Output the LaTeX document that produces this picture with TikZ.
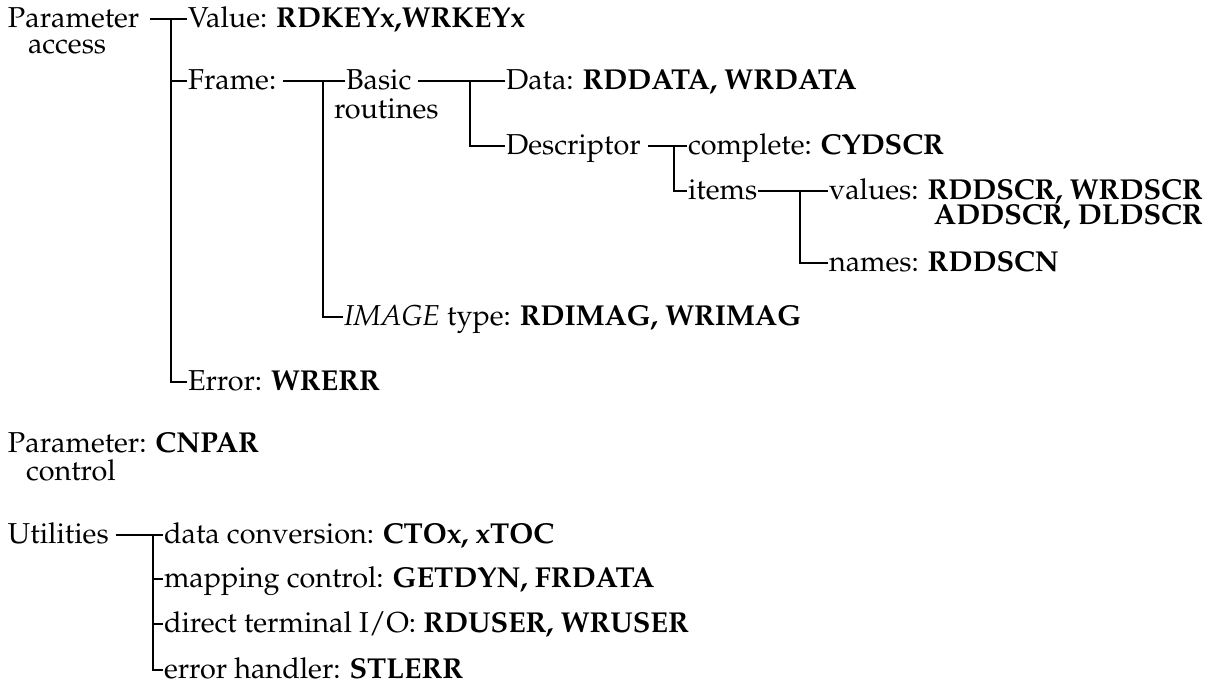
\documentclass[tikz,border=0pt]{standalone}
\usepackage[T1]{fontenc}
\usepackage{mathpazo}
\usepackage{tikz}

\begin{document}
\begin{tikzpicture}[x=0.5pt,y=-0.5pt,line width=1pt,
	lbl/.style={anchor=base west,inner sep=0pt,text height=10pt,text depth=1.5pt,
		font=\fontsize{14.4}{14}\selectfont}]
	\useasboundingbox (0,0) rectangle (1225,686);
	% 树干位置
	\coordinate (tacc) at (171,0);
	\coordinate (tfrm) at (323,0);
	\coordinate (tbas) at (470,0);
	\coordinate (tdsc) at (674,0);
	\coordinate (titm) at (800,0);
	\coordinate (tutl) at (153,0);
	% 参数访问
	\node[lbl] (par) at (7,27) {Parameter};
	\node[lbl] (acc) at (27,53) {access};
	\node[lbl] (val) at (187,27) {Value: \textbf{RDKEYx,WRKEYx}};
	\node[lbl] (frame) at (187,89) {Frame:};
	\node[lbl] (err) at (187,390) {Error: \textbf{WRERR}};
	% 帧
	\node[lbl] (basic) at (345,89) {Basic};
	\node[lbl] (rout) at (333,118) {routines};
	\node[lbl] (img) at (343,325) {\textit{IMAGE} type: \textbf{RDIMAG, WRIMAG}};
	\node[lbl] (data) at (505,89) {Data: \textbf{RDDATA, WRDATA}};
	\node[lbl] (desc) at (505,154) {Descriptor};
	\node[lbl] (compl) at (687,154) {complete: \textbf{CYDSCR}};
	\node[lbl] (items) at (687,199) {items};
	\node[lbl] (vals) at (828,199) {values: \textbf{RDDSCR, WRDSCR}};
	\node[lbl,anchor=base east] (vals2) at (vals.east |- 0,224) {\textbf{ADDSCR, DLDSCR}};
	\node[lbl] (names) at (828,271) {names: \textbf{RDDSCN}};
	% 参数控制
	\node[lbl] (cnpar) at (7,452) {Parameter: \textbf{CNPAR}};
	\node[lbl] (ctrl) at (25,480) {control};
	% 实用程序
	\node[lbl] (util) at (7,543) {Utilities};
	\node[lbl] (dconv) at (163,543) {data conversion: \textbf{CTOx, xTOC}};
	\node[lbl] (mapc) at (163,587) {mapping control: \textbf{GETDYN, FRDATA}};
	\node[lbl] (dterm) at (163,632) {direct terminal I/O: \textbf{RDUSER, WRUSER}};
	\node[lbl] (errh) at (163,678) {error handler: \textbf{STLERR}};
	% 连线
	\draw ([xshift=5pt]par.east) -- (val.west);
	\draw (tacc |- val.west) |- (err.west);
	\draw (tacc |- frame.west) -- (frame.west);
	\draw ([xshift=3pt]frame.east) -- (basic.west);
	\draw (tfrm |- basic.west) |- (img.west);
	\draw ([xshift=3pt]basic.east) -- (data.west);
	\draw (tbas |- data.west) |- (desc.west);
	\draw ([xshift=3pt]desc.east) -- (compl.west);
	\draw (tdsc |- compl.west) |- (items.west);
	\draw (items.east) -- (vals.west);
	\draw (titm |- vals.west) |- (names.west);
	\draw ([xshift=3pt]util.east) -- (dconv.west);
	\draw (tutl |- dconv.west) |- (errh.west);
	\foreach \n in {mapc,dterm}
		\draw (tutl |- \n.west) -- (\n.west);
\end{tikzpicture}
\end{document}
